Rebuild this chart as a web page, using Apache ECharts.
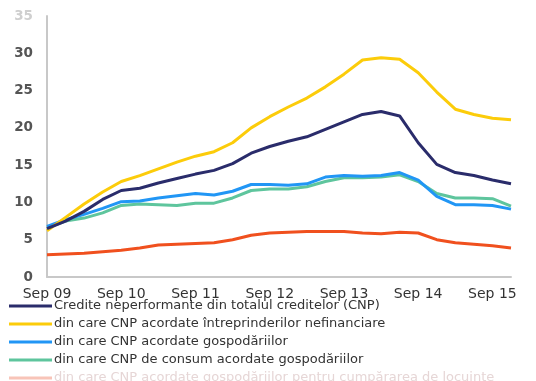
<!DOCTYPE html>
<html>
<head>
<meta charset="utf-8">
<script src="https://cdn.jsdelivr.net/npm/echarts@6/dist/echarts.min.js"></script>
<style>
  html, body { margin: 0; padding: 0; background: #ffffff; }
  #chart { width: 536px; height: 381px; }
</style>
</head>
<body>
<div id="chart"></div>
<script>
// Quarterly observations, Sep 2009 – Dec 2015 (%)
const quarters = [
  'Sep 09','Dec 09','Mar 10','Jun 10','Sep 10','Dec 10','Mar 11','Jun 11',
  'Sep 11','Dec 11','Mar 12','Jun 12','Sep 12','Dec 12','Mar 13','Jun 13',
  'Sep 13','Dec 13','Mar 14','Jun 14','Sep 14','Dec 14','Mar 15','Jun 15',
  'Sep 15','Dec 15'
];

const seriesNames = [
  'Credite neperformante din totalul creditelor (CNP)',
  'din care CNP acordate întreprinderilor nefinanciare',
  'din care CNP acordate gospodăriilor',
  'din care CNP de consum acordate gospodăriilor',
  'din care CNP acordate gospodăriilor pentru cumpărarea de locuințe'
];

const cnpTotal = [6.5, 7.5, 8.8, 10.4, 11.6, 11.9, 12.6, 13.2, 13.8, 14.3, 15.2, 16.6, 17.5,
  18.2, 18.8, 19.8, 20.8, 21.8, 22.2, 21.6, 18.0, 15.1, 14.0, 13.6, 13.0, 12.5];
const cnpFirme = [6.2, 8.0, 9.8, 11.4, 12.8, 13.6, 14.5, 15.4, 16.2, 16.8, 18.0, 20.0, 21.5,
  22.8, 24.0, 25.5, 27.2, 29.1, 29.4, 29.2, 27.4, 24.8, 22.5, 21.8, 21.3, 21.1];
const cnpGospodarii = [6.8, 7.7, 8.4, 9.2, 10.1, 10.2, 10.6, 10.9, 11.2, 11.0, 11.5, 12.4, 12.4,
  12.3, 12.5, 13.4, 13.6, 13.5, 13.6, 14.0, 13.0, 10.8, 9.7, 9.7, 9.6, 9.1];
const cnpConsum = [6.6, 7.5, 7.9, 8.6, 9.6, 9.8, 9.7, 9.6, 9.9, 9.9, 10.6, 11.6, 11.8,
  11.8, 12.1, 12.8, 13.3, 13.3, 13.4, 13.7, 12.8, 11.2, 10.6, 10.6, 10.5, 9.5];
const cnpLocuinte = [3.0, 3.1, 3.2, 3.4, 3.6, 3.9, 4.3, 4.4, 4.5, 4.6, 5.0, 5.6, 5.9,
  6.0, 6.1, 6.1, 6.1, 5.9, 5.8, 6.0, 5.9, 5.0, 4.6, 4.4, 4.2, 3.9];

const yTicks = [0, 5, 10, 15, 20, 25, 30, 35];

const colors = ['#2a2c6b', '#fccc0a', '#2196f5', '#5ec59d', '#f0501e'];
const values = [cnpTotal, cnpFirme, cnpGospodarii, cnpConsum, cnpLocuinte];

const FONT = 'DejaVu Sans, Verdana, sans-serif';

const chart = echarts.init(document.getElementById('chart'), null, { renderer: 'canvas' });

chart.setOption({
  animation: false,
  backgroundColor: '#ffffff',
  color: colors,
  grid: { left: 47, right: 25, top: 16, bottom: 104, containLabel: false },
  legend: {
    orient: 'vertical',
    left: 9,
    top: 299,
    height: 120,
    padding: 0,
    itemWidth: 43,
    itemHeight: 3,
    itemGap: 4,
    icon: 'rect',
    textStyle: {
      fontFamily: FONT,
      fontSize: 13,
      lineHeight: 14,
      color: '#333333',
      padding: [0, 0, 0, -3]
    },
    data: seriesNames.map((n, i) => i === 4
      ? { name: n, textStyle: { color: '#e6d6d6' }, itemStyle: { color: '#f8c4b8' } }
      : { name: n })
  },
  xAxis: {
    type: 'category',
    data: quarters,
    boundaryGap: false,
    axisLine: { lineStyle: { color: '#c8c8c8', width: 2 } },
    axisTick: { show: false },
    axisLabel: {
      interval: 3,
      margin: 10,
      fontFamily: FONT,
      fontSize: 14,
      color: '#333333'
    },
    splitLine: { show: false }
  },
  yAxis: {
    type: 'value',
    min: yTicks[0],
    max: yTicks[yTicks.length - 1],
    interval: 5,
    axisLine: { show: true, lineStyle: { color: '#c8c8c8', width: 2 } },
    axisTick: { show: false },
    splitLine: { show: false },
    axisLabel: {
      margin: 14,
      fontFamily: FONT,
      fontSize: 13.5,
      fontWeight: 'bold',
      color: '#555555',
      formatter: v => v === 35 ? '{f|' + v + '}' : String(v),
      rich: { f: { color: '#cfcfcf', fontSize: 13.5, fontWeight: 'bold', fontFamily: FONT } }
    }
  },
  series: seriesNames.map((name, i) => ({
    name: name,
    type: 'line',
    data: values[i],
    symbol: 'none',
    lineStyle: { width: 3, color: colors[i] },
    z: 10 - i
  }))
});
</script>
</body>
</html>
